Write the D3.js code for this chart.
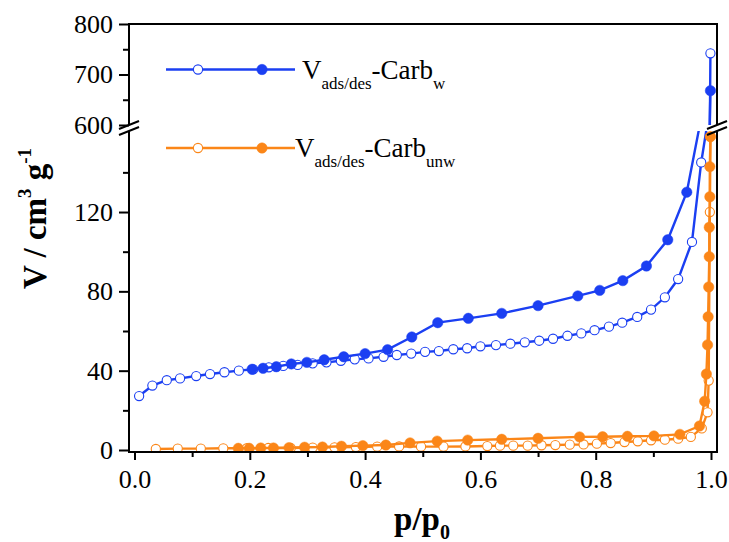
<!DOCTYPE html>
<html lang="en">
  <head>
    <meta charset="UTF-8" />
    <title>Isotherms Carb_w / Carb_unw</title>
    <script src="https://d3js.org/d3.v7.min.js"></script>
    <style>
      body {
        margin: 0;
        background: #fff;
      }
      svg text {
        font-family: 'Liberation Serif', 'DejaVu Serif', serif;
        fill: #000;
      }
      .tick text {
        font-size: 26px;
      }
    </style>
  </head>
  <body>
    <svg width="729" height="542"></svg>

    <script>
      // Carb_w, adsorption (open symbols)
      const wAdsP = [0.008, 0.031, 0.056, 0.079, 0.107, 0.131, 0.156, 0.181, 0.206, 0.233,
        0.258, 0.283, 0.309, 0.333, 0.358, 0.382, 0.406, 0.432, 0.455, 0.48,
        0.504, 0.528, 0.553, 0.577, 0.6, 0.627, 0.652, 0.677, 0.702, 0.726,
        0.751, 0.775, 0.798, 0.823, 0.846, 0.872, 0.896, 0.92, 0.943, 0.967,
        0.983, 0.995, 0.999];
      const wAdsV = [27.2, 32.5, 35.2, 36.1, 37.3, 38.3, 39.2, 40.0, 40.7, 41.7,
        42.4, 42.9, 43.7, 44.2, 45.0, 45.7, 46.2, 47.0, 47.9, 48.6,
        49.5, 49.9, 50.8, 51.3, 52.3, 52.9, 53.6, 54.3, 55.1, 56.1,
        57.6, 58.8, 60.4, 62.2, 64.2, 67.1, 70.8, 77.0, 86.2, 104.9,
        145, 167, 742];
      // Carb_w, desorption (filled symbols)
      const wDesP = [0.999, 0.99, 0.958, 0.925, 0.888, 0.847, 0.807, 0.769, 0.7, 0.637,
        0.579, 0.526, 0.481, 0.439, 0.4, 0.363, 0.329, 0.299, 0.272, 0.246,
        0.223, 0.204];
      const wDesV = [668, 178, 130, 106, 92.8, 85.4, 80.5, 77.7, 72.8, 68.9,
        66.4, 64.2, 57.0, 50.6, 48.6, 47.0, 45.5, 44.2, 43.4, 42.0,
        41.2, 40.7];
      // Carb_unw, adsorption (open symbols)
      const uAdsP = [0.037, 0.075, 0.115, 0.154, 0.195, 0.232, 0.271, 0.309, 0.347, 0.384,
        0.421, 0.459, 0.497, 0.536, 0.574, 0.612, 0.634, 0.657, 0.682, 0.706,
        0.73, 0.755, 0.779, 0.802, 0.826, 0.85, 0.873, 0.896, 0.92, 0.943,
        0.965, 0.984, 0.994, 0.996, 0.998, 0.999];
      const uAdsV = [0.5, 0.7, 0.7, 0.85, 0.9, 1.0, 1.0, 1.2, 1.35, 1.5,
        1.7, 1.8, 1.7, 1.7, 1.8, 2.0, 2.2, 2.2, 2.2, 2.4,
        2.5, 2.7, 2.8, 3.2, 3.5, 4.0, 4.4, 4.9, 5.2, 5.7,
        6.6, 10.9, 19, 35, 120, 158];
      // Carb_unw, desorption (filled symbols)
      const uDesP = [0.999, 0.998, 0.998, 0.997, 0.997, 0.996, 0.995, 0.994, 0.992, 0.989,
        0.98, 0.946, 0.901, 0.855, 0.812, 0.772, 0.7, 0.637, 0.578, 0.525,
        0.478, 0.436, 0.396, 0.359, 0.326, 0.295, 0.268, 0.241, 0.219, 0.199,
        0.18];
      const uDesV = [158, 142.9, 127.7, 112.3, 97.5, 82.2, 67.2, 53, 38.3, 24.6,
        12.1, 7.9, 7.1, 6.9, 6.7, 6.6, 5.9, 5.4, 5.0, 4.5,
        3.6, 2.5, 2.2, 1.9, 1.5, 1.4, 1.2, 1.0, 1.0, 0.85,
        0.85];

      const xTicks = [0, 0.2, 0.4, 0.6, 0.8, 1.0];
      const xMinor = [0.1, 0.3, 0.5, 0.7, 0.9];
      const yLowTicks = [0, 40, 80, 120];
      const yLowMinor = [20, 60, 100, 140];
      const yHighTicks = [600, 700, 800];
      const yHighMinor = [650, 750];

      const blue = '#1b3ff2';
      const orange = '#fb8618';

      const svg = d3.select('svg');

      const plotL = 129, plotR = 717, plotT = 24, plotB = 452;
      const breakHi = 125, breakLo = 131;

      const x = d3.scaleLinear().domain([0, 1]).range([134.5, 711]);
      const yLow = d3.scaleLinear().domain([0, 160]).range([450, 132.7]);
      const yHigh = d3.scaleLinear().domain([600, 800]).range([125, 24]);

      const defs = svg.append('defs');
      defs.append('clipPath').attr('id', 'clipLow').append('rect')
        .attr('x', plotL).attr('y', breakLo).attr('width', plotR - plotL).attr('height', plotB - breakLo);
      defs.append('clipPath').attr('id', 'clipHigh').append('rect')
        .attr('x', plotL).attr('y', plotT).attr('width', plotR - plotL).attr('height', breakHi - plotT);

      const series = [
        { p: wAdsP, v: wAdsV, color: blue, filled: false },
        { p: wDesP, v: wDesV, color: blue, filled: true },
        { p: uAdsP, v: uAdsV, color: orange, filled: false },
        { p: uDesP, v: uDesV, color: orange, filled: true },
      ];

      function drawPanel(y, clip) {
        const g = svg.append('g').attr('clip-path', `url(#${clip})`);
        series.forEach((s) => {
          const pts = s.p.map((p, i) => [p, s.v[i]]);
          g.append('path')
            .datum(pts)
            .attr('fill', 'none')
            .attr('stroke', s.color)
            .attr('stroke-width', 2.4)
            .attr('d', d3.line().x((d) => x(d[0])).y((d) => y(d[1])));
          g.selectAll(null)
            .data(pts)
            .enter()
            .append('circle')
            .attr('cx', (d) => x(d[0]))
            .attr('cy', (d) => y(d[1]))
            .attr('r', s.filled ? 5.2 : 4.6)
            .attr('fill', s.filled ? s.color : '#fff')
            .attr('stroke', s.color)
            .attr('stroke-width', s.filled ? 0.5 : 1.1);
        });
      }
      drawPanel(yLow, 'clipLow');
      drawPanel(yHigh, 'clipHigh');

      // axes
      const axisStyle = (g) => {
        g.attr('font-family', null);
        g.select('.domain').remove();
        g.selectAll('line').attr('stroke', '#000').attr('stroke-width', 2);
      };
      svg.append('g').attr('transform', `translate(0,${plotB})`)
        .call(d3.axisBottom(x).tickValues(xTicks).tickFormat(d3.format('.1f')).tickSize(8).tickPadding(10))
        .call(axisStyle);
      svg.append('g').attr('transform', `translate(0,${plotB})`)
        .call(d3.axisBottom(x).tickValues(xMinor).tickFormat('').tickSize(5))
        .call(axisStyle);
      svg.append('g').attr('transform', `translate(${plotL},0)`)
        .call(d3.axisLeft(yLow).tickValues(yLowTicks).tickSize(10).tickPadding(6))
        .call(axisStyle);
      svg.append('g').attr('transform', `translate(${plotL},0)`)
        .call(d3.axisLeft(yLow).tickValues(yLowMinor).tickFormat('').tickSize(6))
        .call(axisStyle);
      svg.append('g').attr('transform', `translate(${plotL},0)`)
        .call(d3.axisLeft(yHigh).tickValues(yHighTicks).tickSize(10).tickPadding(6))
        .call(axisStyle);
      svg.append('g').attr('transform', `translate(${plotL},0)`)
        .call(d3.axisLeft(yHigh).tickValues(yHighMinor).tickFormat('').tickSize(6))
        .call(axisStyle);

      // frame with breaks
      const frame = svg.append('g').attr('stroke', '#000').attr('stroke-width', 2).attr('fill', 'none');
      frame.append('path').attr('d',
        `M${plotL},${breakHi}V${plotT}H${plotR}V${breakHi}` +
        `M${plotL},${breakLo}V${plotB}H${plotR}V${breakLo}`);
      [plotL, plotR].forEach((bx) => {
        [breakHi, breakLo].forEach((by) => {
          frame.append('line')
            .attr('x1', bx - 10).attr('y1', by + 4)
            .attr('x2', bx + 10).attr('y2', by - 4);
        });
      });

      // axis titles
      const xl = svg.append('text')
        .attr('x', 422).attr('y', 530)
        .attr('text-anchor', 'middle')
        .style('font-size', '33px').style('font-weight', 'bold');
      xl.append('tspan').text('p/p');
      xl.append('tspan').attr('dy', 9).style('font-size', '20px').text('0');

      const yl = svg.append('text')
        .attr('transform', 'rotate(-90)')
        .attr('x', -289).attr('y', 46)
        .style('font-size', '33px').style('font-weight', 'bold');
      yl.append('tspan').text('V / cm');
      yl.append('tspan').attr('dy', -15).style('font-size', '19px').text('3');
      yl.append('tspan').attr('dy', 15).text(' g');
      yl.append('tspan').attr('dy', -15).style('font-size', '19px').text('-1');

      // legend
      const legend = [
        { color: blue, y: 69.5, tx: 302, sub: 'w' },
        { color: orange, y: 148, tx: 295, sub: 'unw' },
      ];
      legend.forEach((l) => {
        svg.append('line')
          .attr('x1', 166).attr('x2', 295).attr('y1', l.y).attr('y2', l.y)
          .attr('stroke', l.color).attr('stroke-width', 2.4);
        svg.append('circle').attr('cx', 198).attr('cy', l.y).attr('r', 4.6)
          .attr('fill', '#fff').attr('stroke', l.color).attr('stroke-width', 1.1);
        svg.append('circle').attr('cx', 262).attr('cy', l.y).attr('r', 5.2)
          .attr('fill', l.color).attr('stroke', l.color).attr('stroke-width', 0.5);
        const t = svg.append('text')
          .attr('x', l.tx).attr('y', l.y + 9)
          .style('font-size', '27px');
        t.append('tspan').text('V');
        t.append('tspan').attr('dy', 10).style('font-size', '17px').text('ads/des');
        t.append('tspan').attr('dy', -10).text('-Carb');
        t.append('tspan').attr('dy', 10).style('font-size', '17px').text(l.sub);
      });
    </script>
  </body>
</html>
